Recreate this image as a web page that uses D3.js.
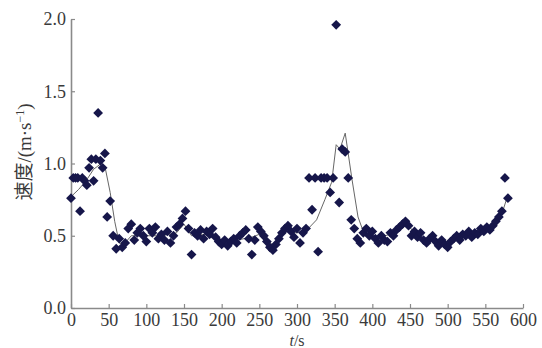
<!DOCTYPE html>
<html>
<head>
<meta charset="utf-8">
<script src="https://cdn.jsdelivr.net/npm/d3@7"></script>
<style>
  html, body { margin: 0; padding: 0; background: #fff; }
  svg { display: block; }
</style>
</head>
<body>
<div id="chart"></div>
<script>
// measured speed samples (t in s, v in m/s)
const times = [
  0, 3, 6, 9, 12, 15, 18, 21, 24, 27, 30, 33, 36, 39, 42, 45, 48, 52, 56, 60,
  64, 68, 72, 76, 80, 84, 88, 92, 96, 100, 104, 108, 112, 116, 120, 124, 128, 132, 136, 140,
  144, 148, 152, 156, 160, 164, 168, 172, 176, 180, 184, 188, 192, 196, 200, 204, 208, 212, 216, 220,
  224, 228, 232, 236, 240, 244, 248, 252, 256, 260, 264, 268, 272, 276, 280, 284, 288, 292, 296, 300,
  304, 308, 312, 316, 320, 324, 328, 332, 336, 340, 344, 348, 352, 356, 360, 364, 368, 372, 376, 380,
  384, 388, 392, 396, 400, 404, 408, 412, 416, 420, 424, 428, 432, 436, 440, 444, 448, 452, 456, 460,
  464, 468, 472, 476, 480, 484, 488, 492, 496, 500, 504, 508, 512, 516, 520, 524, 528, 532, 536, 540,
  544, 548, 552, 556, 560, 564, 568, 572, 576, 580
];
const speeds = [
  0.76, 0.90, 0.90, 0.90, 0.67, 0.90, 0.88, 0.85, 0.97, 1.03, 0.88, 1.03, 1.35, 1.02, 0.97, 1.07, 0.63, 0.74, 0.50, 0.41,
  0.48, 0.42, 0.45, 0.55, 0.58, 0.47, 0.52, 0.55, 0.50, 0.46, 0.55, 0.52, 0.56, 0.48, 0.51, 0.47, 0.53, 0.45, 0.50, 0.56,
  0.58, 0.62, 0.67, 0.55, 0.37, 0.52, 0.50, 0.54, 0.48, 0.53, 0.51, 0.55, 0.49, 0.46, 0.44, 0.47, 0.43, 0.46, 0.48, 0.45,
  0.50, 0.52, 0.54, 0.48, 0.37, 0.47, 0.56, 0.53, 0.50, 0.46, 0.42, 0.40, 0.44, 0.48, 0.52, 0.55, 0.57, 0.53, 0.49, 0.55,
  0.45, 0.52, 0.55, 0.90, 0.68, 0.90, 0.39, 0.90, 0.90, 0.90, 0.80, 0.90, 1.96, 0.73, 1.10, 1.08, 0.90, 0.61, 0.55, 0.48,
  0.45, 0.52, 0.55, 0.50, 0.53, 0.48, 0.45, 0.50, 0.47, 0.46, 0.52, 0.50, 0.54, 0.56, 0.58, 0.60, 0.57, 0.50, 0.53, 0.49,
  0.52, 0.47, 0.45, 0.48, 0.50, 0.46, 0.43, 0.47, 0.44, 0.42, 0.46, 0.48, 0.50, 0.47, 0.51, 0.50, 0.53, 0.49, 0.52, 0.51,
  0.55, 0.53, 0.56, 0.54, 0.57, 0.60, 0.63, 0.67, 0.90, 0.76
];

// smoothed trend line
const trendTimes = [
  2, 10, 20, 30, 40, 45, 52, 58, 64, 70, 80, 100, 120, 140, 150, 160, 180, 200, 220, 240,
  255, 268, 285, 300, 315, 326, 337, 346, 352, 357, 364, 373, 381, 390, 410, 430, 446, 460, 480, 500,
  520, 540, 560, 570, 578
];
const trendSpeeds = [
  0.78, 0.82, 0.88, 0.96, 1.00, 0.98, 0.80, 0.60, 0.45, 0.44, 0.50, 0.50, 0.50, 0.52, 0.58, 0.50, 0.51, 0.46, 0.47, 0.49,
  0.52, 0.43, 0.53, 0.52, 0.55, 0.61, 0.75, 0.87, 1.13, 1.10, 1.21, 0.89, 0.63, 0.50, 0.49, 0.52, 0.58, 0.50, 0.47, 0.44,
  0.50, 0.52, 0.56, 0.62, 0.75
];

const xTicks = [0, 50, 100, 150, 200, 250, 300, 350, 400, 450, 500, 550, 600];
const yTicks = [0.0, 0.5, 1.0, 1.5, 2.0];

const width = 542;
const height = 348;
const margin = { top: 19, right: 19, bottom: 40, left: 71 };

const svg = d3.select('#chart')
  .append('svg')
  .attr('width', width)
  .attr('height', height);

const x = d3.scaleLinear()
  .domain([0, 600])
  .range([margin.left, width - margin.right]);

const y = d3.scaleLinear()
  .domain([0, 2])
  .range([height - margin.bottom, margin.top]);

const serif = '"Liberation Serif", "Times New Roman", serif';

// axes (ticks point inward, no outer ticks)
const xAxis = svg.append('g')
  .attr('transform', `translate(0,${y(0)})`)
  .call(d3.axisBottom(x).tickValues(xTicks).tickFormat(d3.format('d'))
    .tickSizeInner(-4).tickSizeOuter(0).tickPadding(5));

const yAxis = svg.append('g')
  .attr('transform', `translate(${x(0)},0)`)
  .call(d3.axisLeft(y).tickValues(yTicks).tickFormat(d3.format('.1f'))
    .tickSizeInner(-4).tickSizeOuter(0).tickPadding(5));

[xAxis, yAxis].forEach(g => {
  g.select('.domain').attr('stroke', '#8a8a8a').attr('stroke-width', 1.6);
  g.selectAll('.tick line').attr('stroke', '#8a8a8a').attr('stroke-width', 1.2);
  g.selectAll('.tick text')
    .attr('fill', '#3a3a3a')
    .style('font-family', serif)
    .style('font-size', '18px');
});

// trend line
const line = d3.line()
  .x((d, i) => x(trendTimes[i]))
  .y(d => y(d));

svg.append('path')
  .datum(trendSpeeds)
  .attr('d', line)
  .attr('fill', 'none')
  .attr('stroke', '#666')
  .attr('stroke-width', 1);

// diamond markers
const diamond = d3.symbol().type(d3.symbolSquare).size(48);

svg.append('g')
  .selectAll('path')
  .data(speeds)
  .join('path')
  .attr('d', diamond)
  .attr('transform', (d, i) => `translate(${x(times[i])},${y(d)}) rotate(45)`)
  .attr('fill', '#16164a');

// axis titles
svg.append('text')
  .attr('x', x(300))
  .attr('y', 346)
  .attr('text-anchor', 'middle')
  .attr('fill', '#3a3a3a')
  .style('font-family', serif)
  .style('font-size', '16px')
  .html('<tspan font-style="italic">t</tspan>/s');

svg.append('text')
  .attr('transform', `translate(31,152) rotate(-90)`)
  .attr('text-anchor', 'middle')
  .attr('fill', '#3a3a3a')
  .style('font-family', `${serif}, "Noto Sans CJK SC"`)
  .style('font-size', '19px')
  .html('速度/(m·s<tspan dy="-7" font-size="12px">−1</tspan><tspan dy="7">)</tspan>');
</script>
</body>
</html>
